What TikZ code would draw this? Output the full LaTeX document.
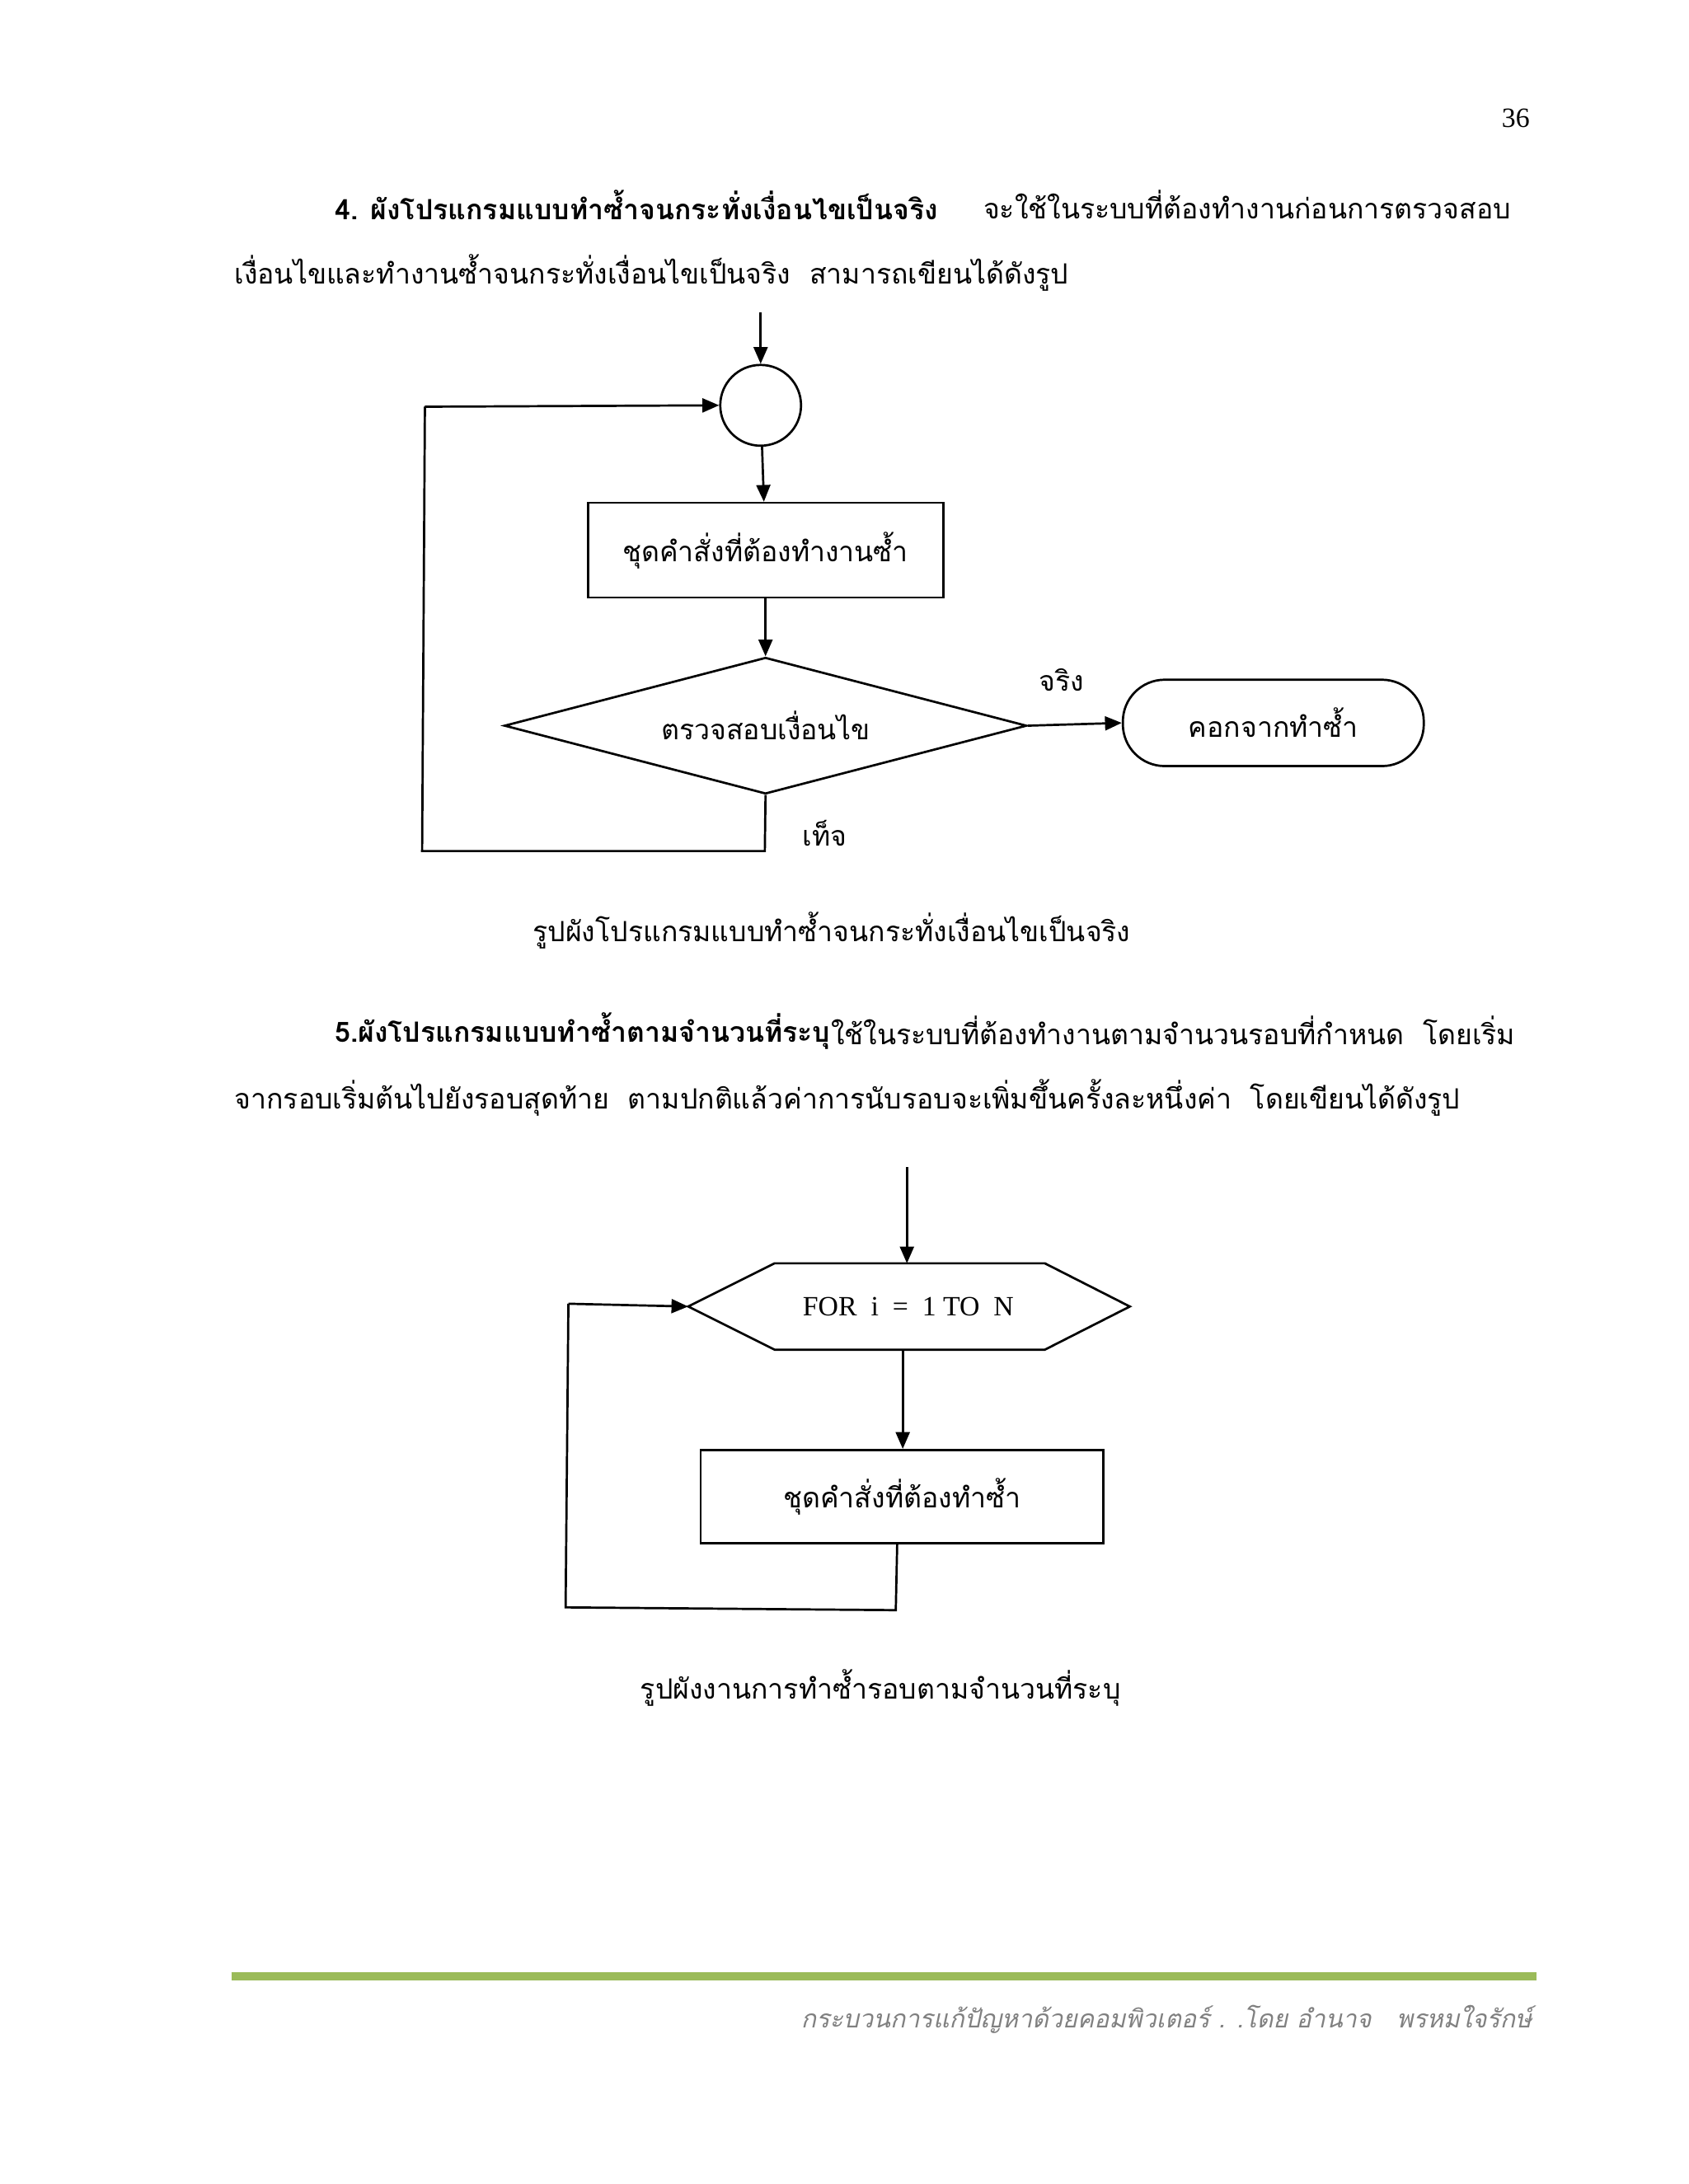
\documentclass[tikz,border=0pt]{standalone}
\usepackage{fontspec}
\newfontfamily\thaifont[Script=Thai]{Loma}
\setmainfont{Liberation Serif}
\usetikzlibrary{arrows.meta,shapes.geometric}
\definecolor{gr}{HTML}{9BBB59}
\begin{document}
\begin{tikzpicture}[x=0.5pt,y=-0.5pt,
  t/.style={font=\thaifont\fontsize{10}{12}\selectfont, inner sep=0},
  tb/.style={font=\thaifont\bfseries\fontsize{10}{12}\selectfont, inner sep=0},
  box/.style={draw, line width=0.8pt},
  ar/.style={-{Triangle[length=6pt,width=5pt]}, line width=0.8pt},
  ln/.style={line width=0.8pt}]
\useasboundingbox (0,0) rectangle (1212,1568);
\node[font=\fontsize{10}{12}\selectfont, inner sep=0] (pn) at (1088,85) {36};
\node[tb, anchor=west] (h4) at (240,147) {4. ผังโปรแกรมแบบทำซ้ำจนกระทั่งเงื่อนไขเป็นจริง};
\node[t, anchor=east] (h4b) at (1085,147) {จะใช้ในระบบที่ต้องทำงานก่อนการตรวจสอบ};
\node[t, anchor=west] (l2) at (168,196) {เงื่อนไขและทำงานซ้ำจนกระทั่งเงื่อนไขเป็นจริง~~สามารถเขียนได้ดังรูป};
% flowchart 1
\coordinate (s1) at (546,224);
\node[box, circle, minimum size=29pt, inner sep=0] (c1) at (546,291) {};
\node[box, minimum width=127.5pt, minimum height=34pt, t] (r1) at (549.5,395) {ชุดคำสั่งที่ต้องทำงานซ้ำ};
\node[box, diamond, aspect=3.8, minimum width=187.5pt, minimum height=49pt, inner sep=0, t] (d1) at (549.5,521) {ตรวจสอบเงื่อนไข};
\node[box, rounded corners=15pt, minimum width=108pt, minimum height=31pt, t] (e1) at (914,519) {คอกจากทำซ้ำ};
\node[t] (tr) at (762,488) {จริง};
\node[t] (fa) at (592,598) {เท็จ};
\coordinate (f1) at (549,611);
\coordinate (f2) at (303,611);
\coordinate (f3) at (305,292);
\draw[ar] (s1) -- (c1);
\draw[ar] (c1) -- (r1);
\draw[ar] (r1) -- (d1);
\draw[ar] (d1.east) -- (e1.west);
\draw[ln] (d1.south) -- (f1) -- (f2) -- (f3);
\draw[ar] (f3) -- (c1.west);
\node[t] (cap1) at (597,668) {รูปผังโปรแกรมแบบทำซ้ำจนกระทั่งเงื่อนไขเป็นจริง};
% section 5
\node[tb, anchor=west] (h5) at (240,740) {5.ผังโปรแกรมแบบทำซ้ำตามจำนวนที่ระบุ};
\node[t, anchor=east] (h5b) at (1088,740) {ใช้ในระบบที่ต้องทำงานตามจำนวนรอบที่กำหนด~~โดยเริ่ม};
\node[t, anchor=west] (l5) at (168,788) {จากรอบเริ่มต้นไปยังรอบสุดท้าย~~ตามปกติแล้วค่าการนับรอบจะเพิ่มขึ้นครั้งละหนึ่งค่า~~โดยเขียนได้ดังรูป};
\coordinate (s2) at (651,838);
\draw[ln] (494,938) -- (556,907) -- (750,907) -- (811,938) -- (750,969) -- (556,969) -- cycle;
\node[font=\fontsize{10}{12}\selectfont, inner sep=0] (hx) at (652,938) {FOR~~i~~=~~1 TO~~N};
\coordinate (hxt) at (651,907);
\coordinate (hxb) at (648,970);
\coordinate (hxl) at (494,938);
\node[box, minimum width=144.5pt, minimum height=33.5pt, t] (r2) at (647.5,1074.5) {ชุดคำสั่งที่ต้องทำซ้ำ};
\coordinate (g1) at (643,1156);
\coordinate (g2) at (406,1154);
\coordinate (g3) at (408,936);
\draw[ar] (s2) -- (hxt);
\draw[ar] (hxb) -- (r2.north -| hxb);
\draw[ln] (r2.south -| 644,0) -- (g1) -- (g2) -- (g3);
\draw[ar] (g3) -- (hxl);
\node[t] (cap2) at (632,1212) {รูปผังงานการทำซ้ำรอบตามจำนวนที่ระบุ};
% footer
\draw[gr, line width=3pt] (166,1419) -- (1103,1419);
\node[t, anchor=east, text=gray, font=\thaifont\itshape\fontsize{9}{11}\selectfont] (ft) at (1100,1450) {กระบวนการแก้ปัญหาด้วยคอมพิวเตอร์ . .โดย อำนาจ~~~พรหมใจรักษ์};
\end{tikzpicture}
\end{document}
